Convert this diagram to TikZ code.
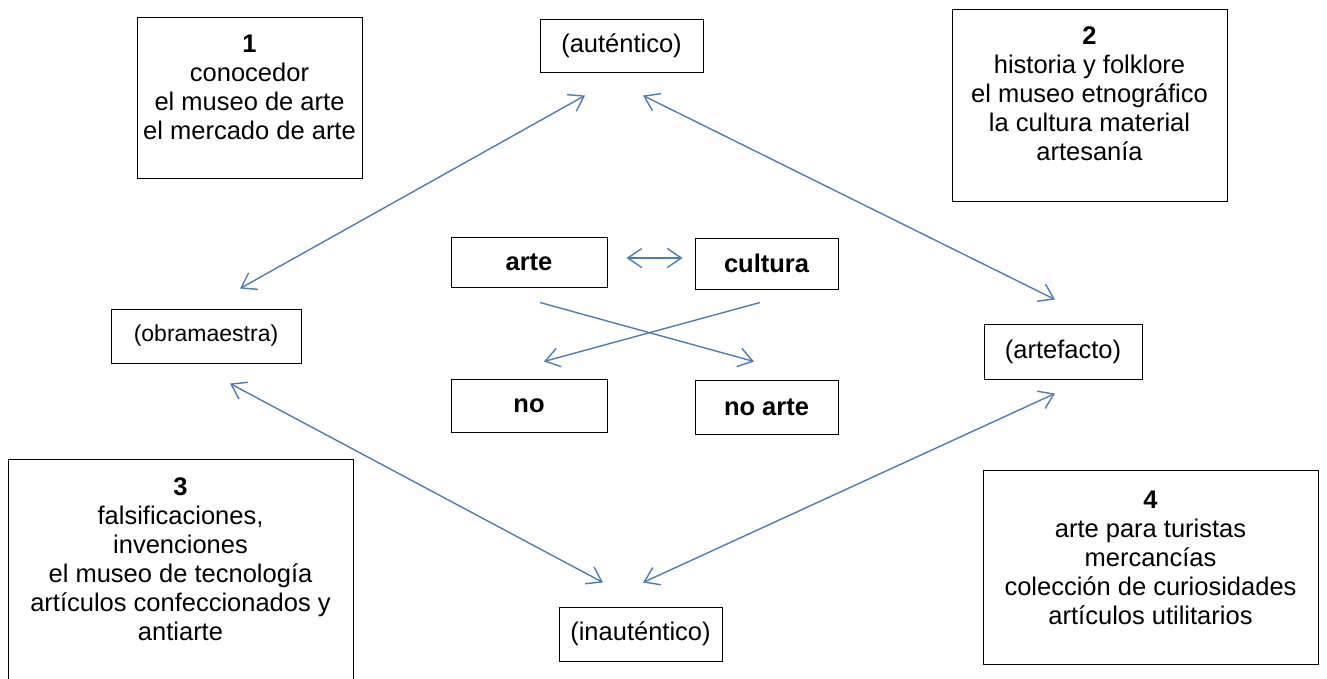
\documentclass[tikz,border=0pt]{standalone}
\usepackage{fontspec}
\setmainfont{Liberation Sans}
\usetikzlibrary{arrows.meta,calc}
\definecolor{arrowblue}{RGB}{74,126,187}
\begin{document}
\begin{tikzpicture}[x=1pt,y=-1pt,
  box/.style={draw=black,line width=1pt,inner sep=0pt},
  txt/.style={font=\fontsize{25.5}{29}\selectfont,align=center,inner sep=0pt},
  btxt/.style={font=\fontsize{25.5}{29}\selectfont\bfseries,inner sep=0pt},
  conn/.style={draw=arrowblue,line width=1.4pt,
    arrows={Straight Barb[length=14pt,width=19pt,line width=1.4pt]-Straight Barb[length=14pt,width=19pt,line width=1.4pt]}},
  oneway/.style={draw=arrowblue,line width=1.4pt,
    -{Straight Barb[length=14pt,width=19pt,line width=1.4pt]}}]
\useasboundingbox (0,0) rectangle (1327,678);
% big boxes
\node[box,minimum width=225,minimum height=161] (b1) at (249.5,97.5) {};
\node[txt] (t1) at (249.5,87) {\textbf{1}\\conocedor\\el museo de arte\\el mercado de arte};
\node[box,minimum width=275,minimum height=192] (b2) at (1089.5,105) {};
\node[txt] (t2) at (1089.5,93.5) {\textbf{2}\\historia y folklore\\el museo etnográfico\\la cultura material\\artesanía};
\node[box,minimum width=345,minimum height=230] (b3) at (180.5,574) {};
\node[txt] (t3) at (180.5,559.5) {\textbf{3}\\falsificaciones,\\invenciones\\el museo de tecnología\\artículos confeccionados y\\antiarte};
\node[box,minimum width=335,minimum height=194] (b4) at (1150.5,567) {};
\node[txt] (t4) at (1150.5,557.5) {\textbf{4}\\arte para turistas\\mercancías\\colección de curiosidades\\artículos utilitarios};
% small boxes
\node[box,minimum width=163,minimum height=53] (aut) at (621.5,45.5) {};
\node[txt] at (aut.center) {(auténtico)};
\node[box,minimum width=190,minimum height=54] (obra) at (206,336) {};
\node[txt,font=\fontsize{23}{29}\selectfont] at (obra.center) {(obramaestra)};
\node[box,minimum width=158,minimum height=55] (artef) at (1063,351.5) {};
\node[txt] at (artef.center) {(artefacto)};
\node[box,minimum width=163,minimum height=54] (inaut) at (640.5,634) {};
\node[txt] at (inaut.center) {(inauténtico)};
\node[box,minimum width=156,minimum height=50] (arte) at (529,262) {};
\node[btxt] at (arte.center) {arte};
\node[box,minimum width=143,minimum height=51] (cult) at (766.5,263.5) {};
\node[btxt] at (cult.center) {cultura};
\node[box,minimum width=156,minimum height=53] (no) at (529,405.5) {};
\node[btxt] at (no.center) {no};
\node[box,minimum width=143,minimum height=54] (noarte) at (766.5,407) {};
\node[btxt] at (noarte.center) {no arte};
% connectors
\draw[conn] ([shift={(-36.5,23)}]aut.south) -- ([shift={(34,-20)}]obra.north);
\draw[conn] ([shift={(21.5,23)}]aut.south) -- ([shift={(-8,-24)}]artef.north);
\draw[conn] ([shift={(24,20)}]obra.south) -- ([shift={(-37.5,-24)}]inaut.north);
\draw[conn] ([shift={(-8,14)}]artef.south) -- ([shift={(2.5,-24)}]inaut.north);
\draw[conn] ([shift={(19,-4)}]arte.east) -- ([shift={(-12,-5.5)}]cult.west);
\draw[oneway] ([shift={(11,15)}]arte.south) -- ([shift={(-12.5,-18)}]noarte.north);
\draw[oneway] ([shift={(-6.5,13)}]cult.south) -- ([shift={(15,-17)}]no.north);
\end{tikzpicture}
\end{document}
